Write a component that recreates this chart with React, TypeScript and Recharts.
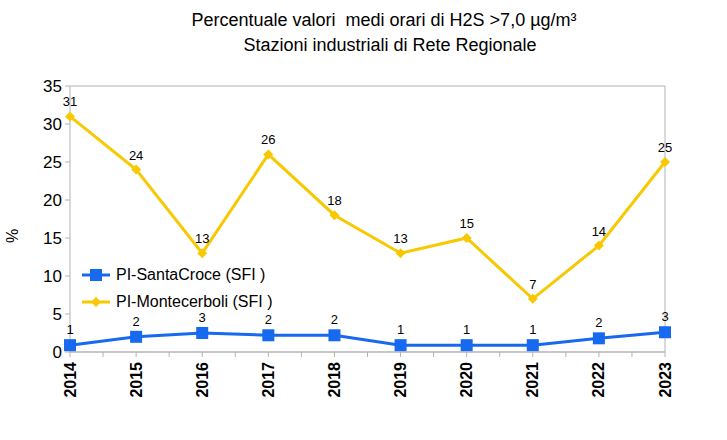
import React from 'react';
import { CartesianGrid, LabelList, Line, LineChart, XAxis, YAxis } from 'recharts';

const years = ['2014', '2015', '2016', '2017', '2018', '2019', '2020', '2021', '2022', '2023'];
const santaCroce = [0.9, 2.0, 2.5, 2.2, 2.2, 0.9, 0.9, 0.9, 1.8, 2.6];
const montecerboli = [31, 24, 13, 26, 18, 13, 15, 7, 14, 25];
const yTicks = [0, 5, 10, 15, 20, 25, 30, 35];

const seriesInfo = [
	{ key: 'santaCroce', name: 'PI-SantaCroce (SFI )', color: '#1769f0', shape: 'square' },
	{ key: 'montecerboli', name: 'PI-Montecerboli (SFI )', color: '#f8c800', shape: 'diamond' },
];

const data = years.map((year, i) => ({
	year,
	santaCroce: santaCroce[i],
	montecerboli: montecerboli[i],
}));

const W = 727;
const H = 440;
const plotLeft = 70;
const plotRight = 62;
const font = '"Liberation Sans", Arial, sans-serif';
const halfStep = (W - plotLeft - plotRight) / (years.length - 1) / 2;

const XTick = (props: any) => {
	const { x, y, payload, index } = props;
	return (
		<g>
			{index > 0 && <line x1={x - halfStep} x2={x - halfStep} y1={y - 8} y2={y - 3} stroke='#b3b3b3' />}
			<text
				x={x}
				y={y + 2}
				transform={`rotate(-90 ${x} ${y + 2})`}
				textAnchor='end'
				dominantBaseline='central'
				fontSize={16}
				fontWeight='bold'
				fontFamily={font}
				fill='#000'
			>
				{payload.value}
			</text>
		</g>
	);
};

const Square = (props: any) => {
	const { cx, cy } = props;
	if (cx == null || cy == null) return null;
	return <rect x={cx - 6} y={cy - 6} width={12} height={12} fill='#1769f0' />;
};

const Diamond = (props: any) => {
	const { cx, cy } = props;
	if (cx == null || cy == null) return null;
	return <path d={`M${cx},${cy - 5}L${cx + 5},${cy}L${cx},${cy + 5}L${cx - 5},${cy}Z`} fill='#f8c800' />;
};

export default function App() {
	return (
		<div style={{ position: 'absolute', left: 0, top: 0, width: W, height: H, background: '#fff', fontFamily: font }}>
			<div style={{ position: 'absolute', left: 0, width: 768, top: 10, textAlign: 'center', fontSize: 18, color: '#000' }}>
				Percentuale valori&nbsp; medi orari di H2S &gt;7,0 µg/m³
			</div>
			<div style={{ position: 'absolute', left: 0, width: 780, top: 35, textAlign: 'center', fontSize: 18, color: '#000' }}>
				Stazioni industriali di Rete Regionale
			</div>
			<div
				style={{
					position: 'absolute',
					left: 6,
					top: 227,
					fontSize: 16,
					transform: 'rotate(-90deg)',
					color: '#000',
				}}
			>
				%
			</div>
			<LineChart width={W} height={H} data={data} margin={{ top: 86, right: 0, left: 0, bottom: 0 }}>
				<CartesianGrid vertical={false} stroke='#b3b3b3' />
				<XAxis
					dataKey='year'
					height={88}
					interval={0}
					stroke='#b3b3b3'
					tickSize={5}
					tickMargin={3}
					tick={<XTick />}
				/>
				<YAxis
					yAxisId='left'
					width={plotLeft}
					domain={[0, 35]}
					ticks={yTicks}
					interval={0}
					stroke='#b3b3b3'
					tickSize={5}
					tickMargin={3}
					tick={{ fill: '#000', fontSize: 17, fontFamily: font }}
				/>
				<YAxis yAxisId='right' orientation='right' width={plotRight} domain={[0, 35]} tick={false} tickLine={false} stroke='#b3b3b3' />
				<Line
					yAxisId='left'
					dataKey='montecerboli'
					stroke='#f8c800'
					strokeWidth={3}
					dot={<Diamond />}
					activeDot={false}
					isAnimationActive={false}
				>
					<LabelList dataKey='montecerboli' position='top' offset={10} fontSize={13} fill='#000' fontFamily={font} formatter={(v: any) => Math.round(v)} />
				</Line>
				<Line
					yAxisId='left'
					dataKey='santaCroce'
					stroke='#1769f0'
					strokeWidth={3}
					dot={<Square />}
					activeDot={false}
					isAnimationActive={false}
				>
					<LabelList dataKey='santaCroce' position='top' offset={11} fontSize={13} fill='#000' fontFamily={font} formatter={(v: any) => Math.round(v)} />
				</Line>
			</LineChart>
			<div style={{ position: 'absolute', left: 80, top: 261 }}>
				{seriesInfo.map((s) => (
					<div key={s.key} style={{ display: 'flex', alignItems: 'center', height: 27, fontSize: 16, color: '#000' }}>
						<svg width={34} height={14} style={{ marginRight: 2 }}>
							<line x1={2} x2={30} y1={7} y2={7} stroke={s.color} strokeWidth={3} />
							{s.shape === 'square' ? (
								<rect x={10} y={1} width={12} height={12} fill={s.color} />
							) : (
								<path d='M16,2L21,7L16,12L11,7Z' fill={s.color} />
							)}
						</svg>
						{s.name}
					</div>
				))}
			</div>
		</div>
	);
}
